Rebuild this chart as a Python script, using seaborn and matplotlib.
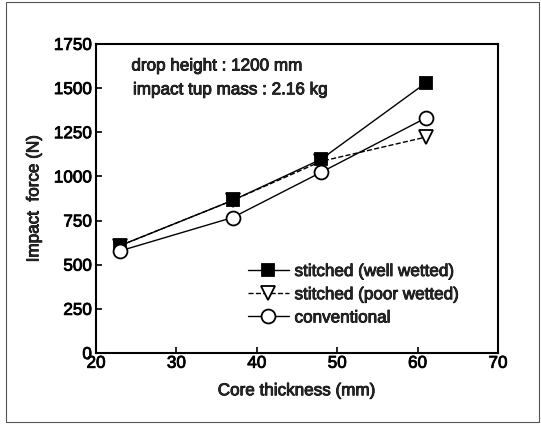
import matplotlib
matplotlib.use("Agg")
import matplotlib.pyplot as plt
import matplotlib.patheffects as pe
import seaborn as sns
import pandas as pd
from matplotlib.patches import Rectangle

sns.set_theme(style="ticks")
plt.rcParams['font.family'] = ['Liberation Sans', 'DejaVu Sans']

thickness = [23, 37, 48, 61]
well_wetted = [608, 864, 1097, 1528]
poor_wetted = [608, 864, 1085, 1222]
conventional = [578, 767, 1023, 1330]
series_names = ["stitched (well wetted)", "stitched (poor wetted)", "conventional"]
x_ticks = [20, 30, 40, 50, 60, 70]
y_ticks = [0, 250, 500, 750, 1000, 1250, 1500, 1750]

df = pd.DataFrame({
    "x": thickness * 3,
    "y": well_wetted + poor_wetted + conventional,
    "series": [series_names[0]] * 4 + [series_names[1]] * 4 + [series_names[2]] * 4,
})

FS = 12.3
bold_fx = [pe.withStroke(linewidth=0.6, foreground="black")]

fig = plt.figure(figsize=(5.41, 4.24), dpi=100)
ax = fig.add_axes([0.1775, 0.1675, 0.743, 0.729])

styles = {
    series_names[0]: dict(marker="s", markersize=9, markerfacecolor="black", linestyle="-", zorder=3),
    series_names[1]: dict(marker="v", markersize=9.5, markerfacecolor="white", linestyle="--", zorder=2),
    series_names[2]: dict(marker="o", markersize=10, markerfacecolor="white", linestyle="-", zorder=4),
}
for name in [series_names[1], series_names[0], series_names[2]]:
    st = styles[name]
    sns.lineplot(data=df[df.series == name], x="x", y="y", ax=ax, color="black",
                 linewidth=1.0, marker=st["marker"], markersize=st["markersize"],
                 markerfacecolor=st["markerfacecolor"], markeredgecolor="black",
                 markeredgewidth=1.3, linestyle=st["linestyle"], label=name,
                 zorder=st["zorder"], dashes=False if st["linestyle"] == "-" else (3, 3))

ax.set_xlim(20, 70)
ax.set_ylim(0, 1750)
ax.set_xticks(x_ticks)
ax.set_yticks(y_ticks)
ax.tick_params(direction="in", length=4, width=1.2, labelsize=FS, colors="black", pad=2)
ax.tick_params(axis="y", pad=3)
for lab in ax.get_xticklabels() + ax.get_yticklabels():
    lab.set_path_effects(bold_fx)
for s in ax.spines.values():
    s.set_linewidth(1.5)
    s.set_color("black")
ax.set_xlabel("Core thickness (mm)", fontsize=FS, labelpad=9, path_effects=bold_fx)
ax.set_ylabel("Impact  force (N)", fontsize=FS, labelpad=9, path_effects=bold_fx)

ax.text(24.4, 1625, "drop height : 1200 mm", fontsize=FS, va="center", path_effects=bold_fx)
ax.text(24.6, 1490, "impact tup mass : 2.16 kg", fontsize=FS, va="center", path_effects=bold_fx)

handles, labels = ax.get_legend_handles_labels()
order = [labels.index(n) for n in series_names]
leg = ax.legend([handles[i] for i in order], [labels[i] for i in order],
                loc="upper left", bbox_to_anchor=(0.36, 0.31), frameon=False,
                fontsize=FS, handlelength=2.4, handletextpad=0.35, labelspacing=0.48,
                borderaxespad=0)
for t in leg.get_texts():
    t.set_path_effects(bold_fx)

fig.patches.append(Rectangle((0.011, 0.005), 0.986, 0.99, transform=fig.transFigure,
                             fill=False, edgecolor="#555555", linewidth=0.8))

fig.savefig("out.png", dpi=100)
